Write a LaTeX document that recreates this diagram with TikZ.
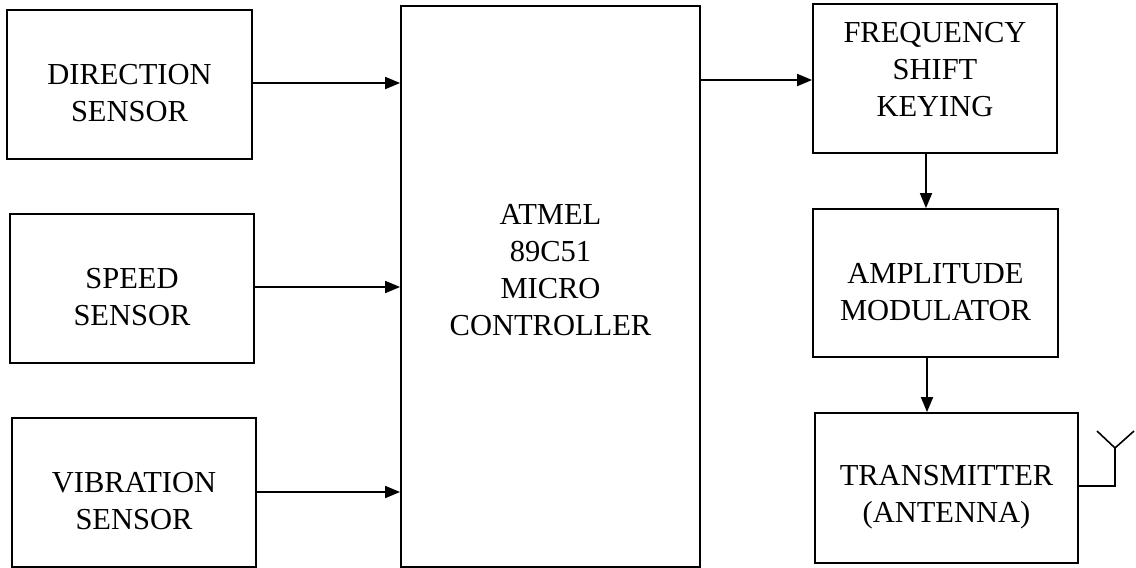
\documentclass[tikz,border=0pt]{standalone}
\usepackage{fontspec}
\setmainfont{Liberation Serif}
\usetikzlibrary{arrows.meta,calc}
\begin{document}
\begin{tikzpicture}[x=1pt,y=-1pt,
  blk/.style={draw,line width=1.8pt,inner sep=0pt},
  lbl/.style={align=center,font=\fontsize{30.5}{37}\selectfont,inner sep=0pt},
  conn/.style={line width=1.8pt,-{Triangle[length=15pt,width=12pt]}},
  wire/.style={line width=1.6pt}]
\useasboundingbox (0,0) rectangle (1136,568);
% boxes
\node[blk,minimum width=245pt,minimum height=149pt] (dir) at (129.5,84.5) {};
\node[blk,minimum width=244pt,minimum height=149pt] (spd) at (132,288.5) {};
\node[blk,minimum width=244pt,minimum height=149pt] (vib) at (134,492.5) {};
\node[blk,minimum width=299pt,minimum height=561pt] (mc) at (550.5,286.5) {};
\node[blk,minimum width=244pt,minimum height=149pt] (fsk) at (935,78.5) {};
\node[blk,minimum width=245pt,minimum height=148pt] (amp) at (935.5,283) {};
\node[blk,minimum width=263pt,minimum height=150pt] (tx) at (946.5,488) {};
% texts
\node[lbl] (tdir) at ($(dir)+(0,9)$) {DIRECTION\\SENSOR};
\node[lbl] (tspd) at ($(spd)+(0,9)$) {SPEED\\SENSOR};
\node[lbl] (tvib) at ($(vib)+(0,9)$) {VIBRATION\\SENSOR};
\node[lbl] (tmc) at ($(mc)+(0,-16)$) {ATMEL\\89C51\\MICRO\\CONTROLLER};
\node[lbl] (tfsk) at ($(fsk)+(0,-9)$) {FREQUENCY\\SHIFT\\KEYING};
\node[lbl] (tamp) at ($(amp)+(0,9)$) {AMPLITUDE\\MODULATOR};
\node[lbl] (ttx) at ($(tx)+(0,9)$) {TRANSMITTER\\(ANTENNA)};
% connectors
\draw[conn] (dir.east |- 0,83) -- (mc.west |- 0,83);
\draw[conn] (spd.east |- 0,287) -- (mc.west |- 0,287);
\draw[conn] (vib.east |- 0,492) -- (mc.west |- 0,492);
\draw[conn] (mc.east |- 0,80) -- (fsk.west |- 0,80);
\draw[conn] (fsk.south -| 926,0) -- (amp.north -| 926,0);
\draw[conn] (amp.south -| 927,0) -- (tx.north -| 927,0);
% antenna
\coordinate (afoot) at (1115,486);
\coordinate (atop) at (1115,448);
\coordinate (aleft) at (1097,431);
\coordinate (aright) at (1134,431);
\draw[wire] (tx.east |- afoot) -- (afoot) -- (atop);
\draw[wire] (aleft) -- (atop) -- (aright);
\end{tikzpicture}
\end{document}
